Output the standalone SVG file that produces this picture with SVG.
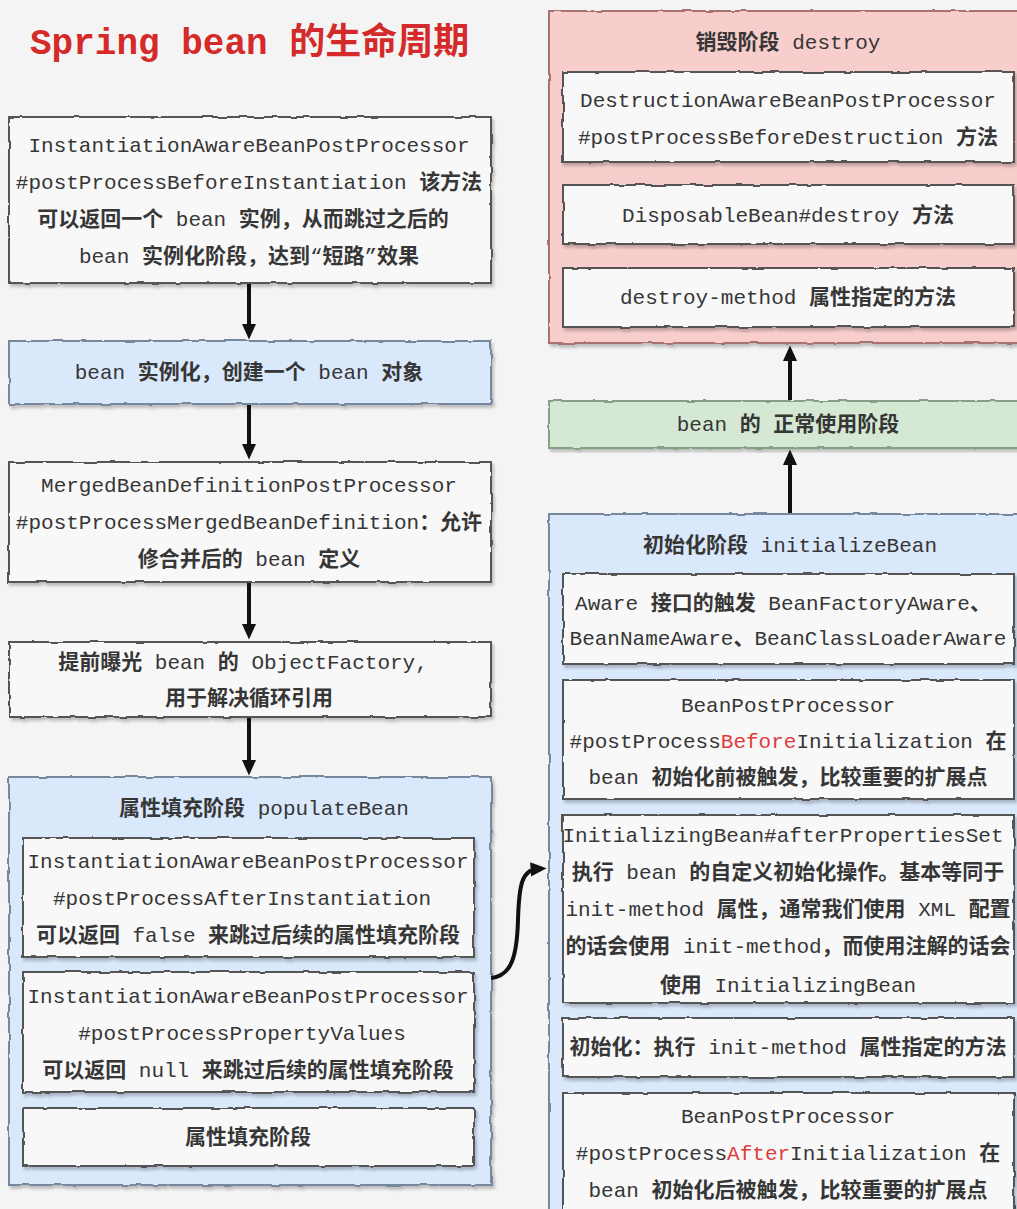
<svg xmlns="http://www.w3.org/2000/svg" width="1017" height="1209" viewBox="0 0 1017 1209">
<style>
.t{font-family:"Liberation Mono","Noto Sans CJK SC",monospace;font-size:21px;fill:#363636;text-anchor:middle}
.k{font-family:"Noto Sans CJK SC",sans-serif;font-weight:bold}
.r{fill:#e03c3c}
.box{fill:#f8f8f8;stroke:#555;stroke-width:2;filter:url(#sk)}
.blue{fill:#dae8fc;stroke:#76879e;stroke-width:2;filter:url(#sk)}
.red{fill:#f8cecc;stroke:#a87272;stroke-width:2;filter:url(#sk)}
.green{fill:#d5e8d4;stroke:#86a085;stroke-width:2;filter:url(#sk)}
.ar{fill:none;stroke:#111;stroke-width:4;marker-end:url(#ah)}
</style>
<defs>
<filter id="sk" x="-5%" y="-10%" width="110%" height="120%">
<feTurbulence type="fractalNoise" baseFrequency="0.06" numOctaves="2" seed="4" result="n"/>
<feDisplacementMap in="SourceGraphic" in2="n" scale="3" xChannelSelector="R" yChannelSelector="G" result="d"/>
<feDropShadow in="d" dx="2" dy="3" stdDeviation="1.5" flood-color="#000" flood-opacity="0.22"/>
</filter>
<marker id="ah" viewBox="0 0 10 10" refX="4" refY="5" markerWidth="16" markerHeight="16" markerUnits="userSpaceOnUse" orient="auto">
<path d="M0,0.5 L10,5 L0,9.5 Z" fill="#111"/>
</marker>
</defs>
<rect width="1017" height="1209" fill="#f4f4f4"/>

<g id="title">
<text x="30" y="54" style="font-family:'Liberation Mono','Noto Sans CJK SC',monospace;font-size:36px;font-weight:bold;fill:#d42a2a">Spring bean <tspan class="k">的生命周期</tspan></text>
</g>

<g id="n1">
<rect class="box" x="9" y="117" width="482" height="166"/>
<text class="t" x="249" y="152">InstantiationAwareBeanPostProcessor</text>
<text class="t" x="249" y="189">#postProcessBeforeInstantiation <tspan class="k">该方法</tspan></text>
<text class="t" x="243" y="226"><tspan class="k">可以返回一个</tspan> bean <tspan class="k">实例，从而跳过之后的</tspan></text>
<text class="t" x="249" y="263">bean <tspan class="k">实例化阶段，达到</tspan>“<tspan class="k">短路</tspan>”<tspan class="k">效果</tspan></text>
</g>

<g id="n2">
<rect class="blue" x="9" y="341" width="482" height="63"/>
<text class="t" x="249" y="379">bean <tspan class="k">实例化，创建一个</tspan> bean <tspan class="k">对象</tspan></text>
</g>

<g id="n3">
<rect class="box" x="9" y="462" width="482" height="120"/>
<text class="t" x="249" y="492">MergedBeanDefinitionPostProcessor</text>
<text class="t" x="249" y="529">#postProcessMergedBeanDefinition<tspan class="k">：允许</tspan></text>
<text class="t" x="249" y="566"><tspan class="k">修合并后的</tspan> bean <tspan class="k">定义</tspan></text>
</g>

<g id="n4">
<rect class="box" x="9" y="642" width="482" height="75"/>
<text class="t" x="243" y="669"><tspan class="k">提前曝光</tspan> bean <tspan class="k">的</tspan> ObjectFactory,</text>
<text class="t" x="249" y="705"><tspan class="k">用于解决循环引用</tspan></text>
</g>

<g id="populate">
<rect class="blue" x="9" y="777" width="482" height="408"/>
<text class="t" x="264" y="815"><tspan class="k">属性填充阶段</tspan> populateBean</text>
<g id="p1">
<rect class="box" x="23" y="838" width="451" height="119"/>
<text class="t" x="248" y="868">InstantiationAwareBeanPostProcessor</text>
<text class="t" x="242" y="905">#postProcessAfterInstantiation</text>
<text class="t" x="248" y="942"><tspan class="k">可以返回</tspan> false <tspan class="k">来跳过后续的属性填充阶段</tspan></text>
</g>
<g id="p2">
<rect class="box" x="23" y="972" width="451" height="120"/>
<text class="t" x="248" y="1003">InstantiationAwareBeanPostProcessor</text>
<text class="t" x="242" y="1040">#postProcessPropertyValues</text>
<text class="t" x="248" y="1077"><tspan class="k">可以返回</tspan> null <tspan class="k">来跳过后续的属性填充阶段</tspan></text>
</g>
<g id="p3">
<rect class="box" x="23" y="1108" width="451" height="58"/>
<text class="t" x="248" y="1144"><tspan class="k">属性填充阶段</tspan></text>
</g>
</g>

<g id="destroy">
<rect class="red" x="549" y="11" width="490" height="332"/>
<text class="t" x="788" y="49"><tspan class="k">销毁阶段</tspan> destroy</text>
<g id="d1">
<rect class="box" x="563" y="72" width="451" height="90"/>
<text class="t" x="788" y="107">DestructionAwareBeanPostProcessor</text>
<text class="t" x="788" y="144">#postProcessBeforeDestruction <tspan class="k">方法</tspan></text>
</g>
<g id="d2">
<rect class="box" x="563" y="185" width="451" height="59"/>
<text class="t" x="788" y="222">DisposableBean#destroy <tspan class="k">方法</tspan></text>
</g>
<g id="d3">
<rect class="box" x="563" y="268" width="451" height="59"/>
<text class="t" x="788" y="304">destroy-method <tspan class="k">属性指定的方法</tspan></text>
</g>
</g>

<g id="use">
<rect class="green" x="549" y="401" width="490" height="47"/>
<text class="t" x="788" y="431">bean <tspan class="k">的</tspan> <tspan class="k">正常使用阶段</tspan></text>
</g>

<g id="init">
<rect class="blue" x="549" y="514" width="490" height="720"/>
<text class="t" x="790" y="552"><tspan class="k">初始化阶段</tspan> initializeBean</text>
<g id="i1">
<rect class="box" x="563" y="574" width="451" height="90"/>
<text class="t" x="783" y="610">Aware <tspan class="k">接口的触发</tspan> BeanFactoryAware<tspan class="k">、</tspan></text>
<text class="t" x="788" y="645">BeanNameAware<tspan class="k">、</tspan>BeanClassLoaderAware</text>
</g>
<g id="i2">
<rect class="box" x="563" y="680" width="451" height="119"/>
<text class="t" x="788" y="712">BeanPostProcessor</text>
<text class="t" x="788" y="748">#postProcess<tspan class="r">Before</tspan>Initialization <tspan class="k">在</tspan></text>
<text class="t" x="788" y="784">bean <tspan class="k">初始化前被触发，比较重要的扩展点</tspan></text>
</g>
<g id="i3">
<rect class="box" x="563" y="815" width="451" height="188"/>
<text class="t" x="783" y="842">InitializingBean#afterPropertiesSet</text>
<text class="t" x="788" y="879"><tspan class="k">执行</tspan> bean <tspan class="k">的自定义初始化操作。基本等同于</tspan></text>
<text class="t" x="788" y="916">init-method <tspan class="k">属性，通常我们使用</tspan> XML <tspan class="k">配置</tspan></text>
<text class="t" x="788" y="953"><tspan class="k">的话会使用</tspan> init-method<tspan class="k">，而使用注解的话会</tspan></text>
<text class="t" x="788" y="992"><tspan class="k">使用</tspan> InitializingBean</text>
</g>
<g id="i4">
<rect class="box" x="563" y="1018" width="451" height="59"/>
<text class="t" x="788" y="1054"><tspan class="k">初始化：执行</tspan> init-method <tspan class="k">属性指定的方法</tspan></text>
</g>
<g id="i5">
<rect class="box" x="563" y="1093" width="451" height="140"/>
<text class="t" x="788" y="1123">BeanPostProcessor</text>
<text class="t" x="788" y="1160">#postProcess<tspan class="r">After</tspan>Initialization <tspan class="k">在</tspan></text>
<text class="t" x="788" y="1197">bean <tspan class="k">初始化后被触发，比较重要的扩展点</tspan></text>
</g>
</g>

<g id="connectors">
<line class="ar" x1="249" y1="284" x2="249" y2="330"/>
<line class="ar" x1="249" y1="405" x2="249" y2="450"/>
<line class="ar" x1="249" y1="583" x2="249" y2="630"/>
<line class="ar" x1="249" y1="718" x2="249" y2="766"/>
<line class="ar" x1="790" y1="400" x2="790" y2="355"/>
<line class="ar" x1="790" y1="513" x2="790" y2="459"/>
<path class="ar" d="M491 978 C512 976 517 955 518 920 C519 885 522 870 537 869"/>
</g>
</svg>
